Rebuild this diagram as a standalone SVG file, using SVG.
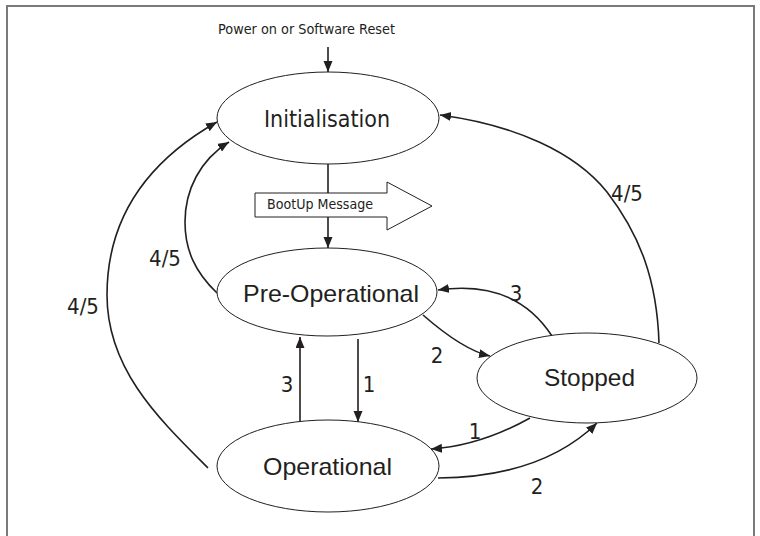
<svg xmlns="http://www.w3.org/2000/svg" width="760" height="536" viewBox="0 0 760 536">
<style>
.node{fill:#fff;stroke:#231f20;stroke-width:1}
.c{fill:none;stroke:#231f20;stroke-width:1.6;marker-end:url(#ah)}
.cond{font-family:"DejaVu Sans Condensed","DejaVu Sans","Liberation Sans Narrow",sans-serif;font-stretch:condensed;fill:#231f20;text-anchor:middle}
.arial{font-family:"Liberation Sans",Arial,sans-serif;fill:#231f20;text-anchor:middle}
.lbl{font-size:22px}
</style>
<defs>
<marker id="ah" markerUnits="userSpaceOnUse" markerWidth="12" markerHeight="10" refX="11" refY="4.5" orient="auto">
<path d="M0,0 L11,4.5 L0,9 z" fill="#231f20"/>
</marker>
</defs>
<rect width="760" height="536" fill="#fff"/>
<path d="M7,536 V6 H754 V536" fill="none" stroke="#7a7a7a" stroke-width="2"/>
<text class="cond" x="306.5" y="34" font-size="14.5" textLength="177" lengthAdjust="spacingAndGlyphs">Power on or Software Reset</text>
<g id="connectors">
<path class="c" d="M328,47 L328,72"/>
<path class="c" d="M328,164 L328,248"/>
<path class="c" d="M300,423 L300,337"/>
<path class="c" d="M358,339 L358,422"/>
<path class="c" d="M423,315 Q463,350 490,356"/>
<path class="c" d="M552,336 Q515,279 438,290"/>
<path class="c" d="M530,418 Q480,446 431,449"/>
<path class="c" d="M438,478 Q542,477 597,423"/>
<path class="c" d="M217,293 C195,272 185,250 185,222 C185,190 200,160 229,142"/>
<path class="c" d="M208,468 C160,420 107,370 107,295 C107,215 150,160 217,122"/>
<path class="c" d="M659,343 C657,280 640,235 607,192 C575,152 515,125 440,115"/>
<text class="cond lbl" x="83" y="314">4/5</text>
<text class="cond lbl" x="165" y="266">4/5</text>
<text class="cond lbl" x="627" y="201">4/5</text>
<text class="cond lbl" x="516" y="301">3</text>
<text class="cond lbl" x="437" y="363">2</text>
<text class="cond lbl" x="287" y="392">3</text>
<text class="cond lbl" x="369" y="392">1</text>
<text class="cond lbl" x="475" y="439">1</text>
<text class="cond lbl" x="537" y="494">2</text>
</g>
<g id="bootup">
<polygon points="255,193 387,193 387,182 432,206 387,230 387,217 255,217" fill="#fff" stroke="#231f20" stroke-width="1"/>
<text class="cond" x="320" y="209" font-size="14" textLength="106" lengthAdjust="spacingAndGlyphs">BootUp Message</text>
</g>
<g id="initialisation">
<ellipse class="node" cx="328" cy="118" rx="111" ry="46"/>
<text class="cond" x="327" y="127" font-size="23" textLength="126" lengthAdjust="spacingAndGlyphs">Initialisation</text>
</g>
<g id="preoperational">
<ellipse class="node" cx="327" cy="292" rx="110" ry="44"/>
<text class="arial" x="331" y="302" font-size="24" textLength="176" lengthAdjust="spacingAndGlyphs">Pre-Operational</text>
</g>
<g id="operational">
<ellipse class="node" cx="328" cy="466" rx="111" ry="46"/>
<text class="arial" x="327.5" y="475" font-size="24" textLength="129" lengthAdjust="spacingAndGlyphs">Operational</text>
</g>
<g id="stopped">
<ellipse class="node" cx="587" cy="378" rx="110" ry="45"/>
<text class="arial" x="589.5" y="386" font-size="24" textLength="91" lengthAdjust="spacingAndGlyphs">Stopped</text>
</g>
</svg>
